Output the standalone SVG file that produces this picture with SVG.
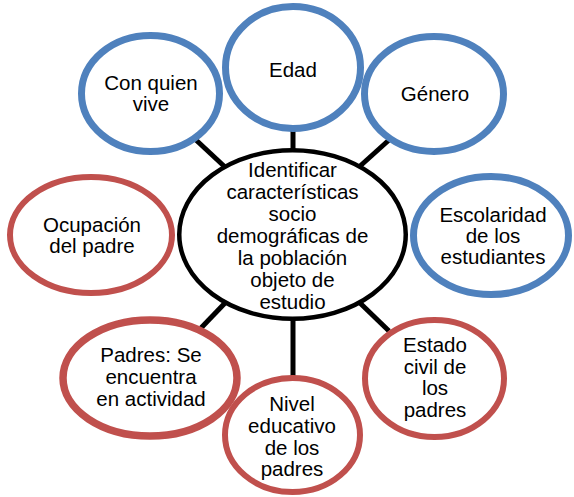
<svg xmlns="http://www.w3.org/2000/svg" width="574" height="497" viewBox="0 0 574 497">
<style>
.blue{fill:#fff;stroke:#4F81BD;stroke-width:7}
.red{fill:#fff;stroke:#C0504D;stroke-width:6}
.ctr{fill:#fff;stroke:#000;stroke-width:4.5}
.lbl{font-family:"Liberation Sans",Arial,sans-serif;font-size:20.5px;fill:#000;text-anchor:middle}
#connectors line{stroke:#000;stroke-width:5}
</style>
<rect width="574" height="497" fill="#fff"/>
<g id="connectors">
<line x1="196" y1="140" x2="225" y2="167"/>
<line x1="293" y1="128" x2="293" y2="152"/>
<line x1="389" y1="140" x2="359" y2="167"/>
<line x1="201" y1="328" x2="225" y2="303"/>
<line x1="293" y1="318" x2="293" y2="378"/>
<line x1="360" y1="303" x2="389" y2="331"/>
</g>
<g id="edad"><ellipse class="blue" cx="293" cy="67.5" rx="67.5" ry="61"/>
<text class="lbl" x="293" y="77">Edad</text></g>
<g id="con-quien-vive"><ellipse class="blue" cx="150.5" cy="93.5" rx="69" ry="58"/>
<text class="lbl" x="151" y="90">Con quien</text><text class="lbl" x="151" y="111">vive</text></g>
<g id="genero"><ellipse class="blue" cx="434" cy="94" rx="69.5" ry="57.5"/>
<text class="lbl" x="435" y="101">Género</text></g>
<g id="escolaridad"><ellipse class="blue" cx="491" cy="235.5" rx="77.5" ry="59"/>
<text class="lbl" x="493" y="222">Escolaridad</text><text class="lbl" x="493" y="243">de los</text><text class="lbl" x="493" y="264">estudiantes</text></g>
<g id="ocupacion"><ellipse class="red" cx="91" cy="235" rx="81" ry="58"/>
<text class="lbl" x="92" y="232">Ocupación</text><text class="lbl" x="92" y="253">del padre</text></g>
<g id="padres-actividad"><ellipse class="red" style="stroke-width:7.5" cx="150" cy="378" rx="87" ry="58"/>
<text class="lbl" x="151" y="362">Padres: Se</text><text class="lbl" x="151" y="384">encuentra</text><text class="lbl" x="151" y="406">en actividad</text></g>
<g id="nivel-educativo"><ellipse class="red" cx="292.5" cy="435" rx="67.5" ry="57"/>
<text class="lbl" x="292" y="411">Nivel</text><text class="lbl" x="292" y="433">educativo</text><text class="lbl" x="292" y="455">de los</text><text class="lbl" x="292" y="476">padres</text></g>
<g id="estado-civil"><ellipse class="red" cx="434.5" cy="378.5" rx="69.5" ry="58.5"/>
<text class="lbl" x="435" y="352">Estado</text><text class="lbl" x="435" y="374">civil de</text><text class="lbl" x="435" y="395">los</text><text class="lbl" x="435" y="417">padres</text></g>
<g id="centro"><ellipse class="ctr" cx="292.5" cy="234.5" rx="113.25" ry="84.25"/>
<text class="lbl" x="292.5" y="177">Identificar</text><text class="lbl" x="292.5" y="199">características</text><text class="lbl" x="292.5" y="221">socio</text><text class="lbl" x="292.5" y="243">demográficas de</text><text class="lbl" x="292.5" y="265">la población</text><text class="lbl" x="292.5" y="287">objeto de</text><text class="lbl" x="292.5" y="309">estudio</text></g>
</svg>
